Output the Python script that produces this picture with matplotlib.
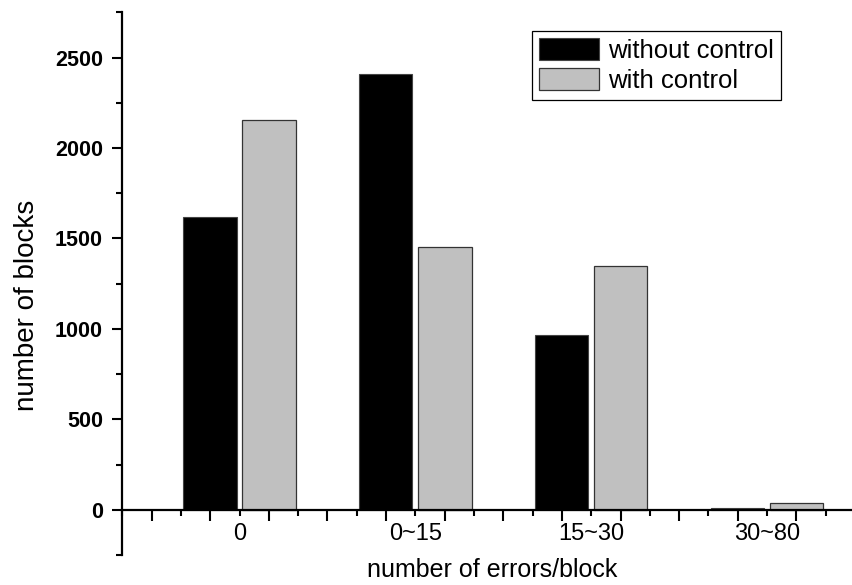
"""Error count histogram: blocks per error range, with and without control."""

import matplotlib
matplotlib.use('Agg')
import matplotlib.pyplot as plt
import numpy as np
from matplotlib.ticker import FixedLocator, MultipleLocator, FuncFormatter

plt.rcParams['font.family'] = ['Liberation Sans', 'DejaVu Sans']

# error ranges per block
categories = ['0', '0~15', '15~30', '30~80']
# number of blocks
without_control = [1620, 2410, 965, 10]
with_control = [2155, 1455, 1350, 37]

x = np.arange(1, len(categories) + 1)
bar_w = 0.303
offset = 0.168

fig = plt.figure()
fig.set_size_inches(8.52, 5.85)
ax = fig.add_axes([122.3 / 852, 30 / 585, 729.7 / 852, 542.7 / 585])

ax.bar(x - offset, without_control, width=bar_w, color='black',
       edgecolor='#444444', linewidth=0.8, label='without control', zorder=2)
ax.bar(x + offset, with_control, width=bar_w, color='#c0c0c0',
       edgecolor='#333333', linewidth=0.9, label='with control', zorder=2)

ax.set_xlim(1 / 3, 4.483)
ax.set_ylim(-250, 2750)

# spines: only left axis and a baseline at y = 0
ax.spines['top'].set_visible(False)
ax.spines['right'].set_visible(False)
ax.spines['bottom'].set_position(('data', 0))
ax.spines['left'].set_linewidth(1.6)
ax.spines['bottom'].set_linewidth(1.6)
ax.spines['bottom'].set_zorder(3)

# y ticks
ax.yaxis.set_major_locator(FixedLocator([0, 500, 1000, 1500, 2000, 2500]))
ax.yaxis.set_minor_locator(MultipleLocator(250))
ax.tick_params(axis='y', which='major', direction='out', length=7.5,
               width=1.5, pad=6.5, labelsize=15.5)
ax.tick_params(axis='y', which='minor', direction='out', length=4.5,
               width=1.5)
for lbl in ax.get_yticklabels():
    lbl.set_fontweight('bold')

# x ticks: short ticks every third of a category, long ones in between
short_ticks = np.arange(1, 14) / 3
long_ticks = 0.5 + np.arange(0, 12) / 3
ax.xaxis.set_major_locator(FixedLocator(short_ticks))
ax.xaxis.set_minor_locator(FixedLocator(long_ticks))


def cat_label(v, pos):
    i = int(round(v))
    if abs(v - i) < 1e-6 and 1 <= i <= len(categories):
        return categories[i - 1]
    return ''


ax.xaxis.set_major_formatter(FuncFormatter(cat_label))
ax.tick_params(axis='x', which='major', direction='out', length=4.5,
               width=1.5, pad=5, labelsize=17)
ax.tick_params(axis='x', which='minor', direction='out', length=8,
               width=1.5)

ax.set_ylabel('number of blocks', fontsize=20, va='center')
ax.yaxis.set_label_coords(-0.1306, 0.4607)
ax.set_xlabel('number of errors/block', fontsize=18, va='center')
ax.xaxis.set_label_coords(0.5067, -0.0273)

leg = ax.legend(loc='upper left', bbox_to_anchor=(531.7 / 852, 1 - 31 / 585),
                bbox_transform=fig.transFigure, fontsize=18.5,
                handlelength=2.35, handleheight=0.9, handletextpad=0.35,
                labelspacing=0.22, borderpad=0.28, borderaxespad=0,
                fancybox=False, framealpha=1, edgecolor='black')
leg.get_frame().set_linewidth(0.9)

fig.savefig('out.png', dpi=100)
